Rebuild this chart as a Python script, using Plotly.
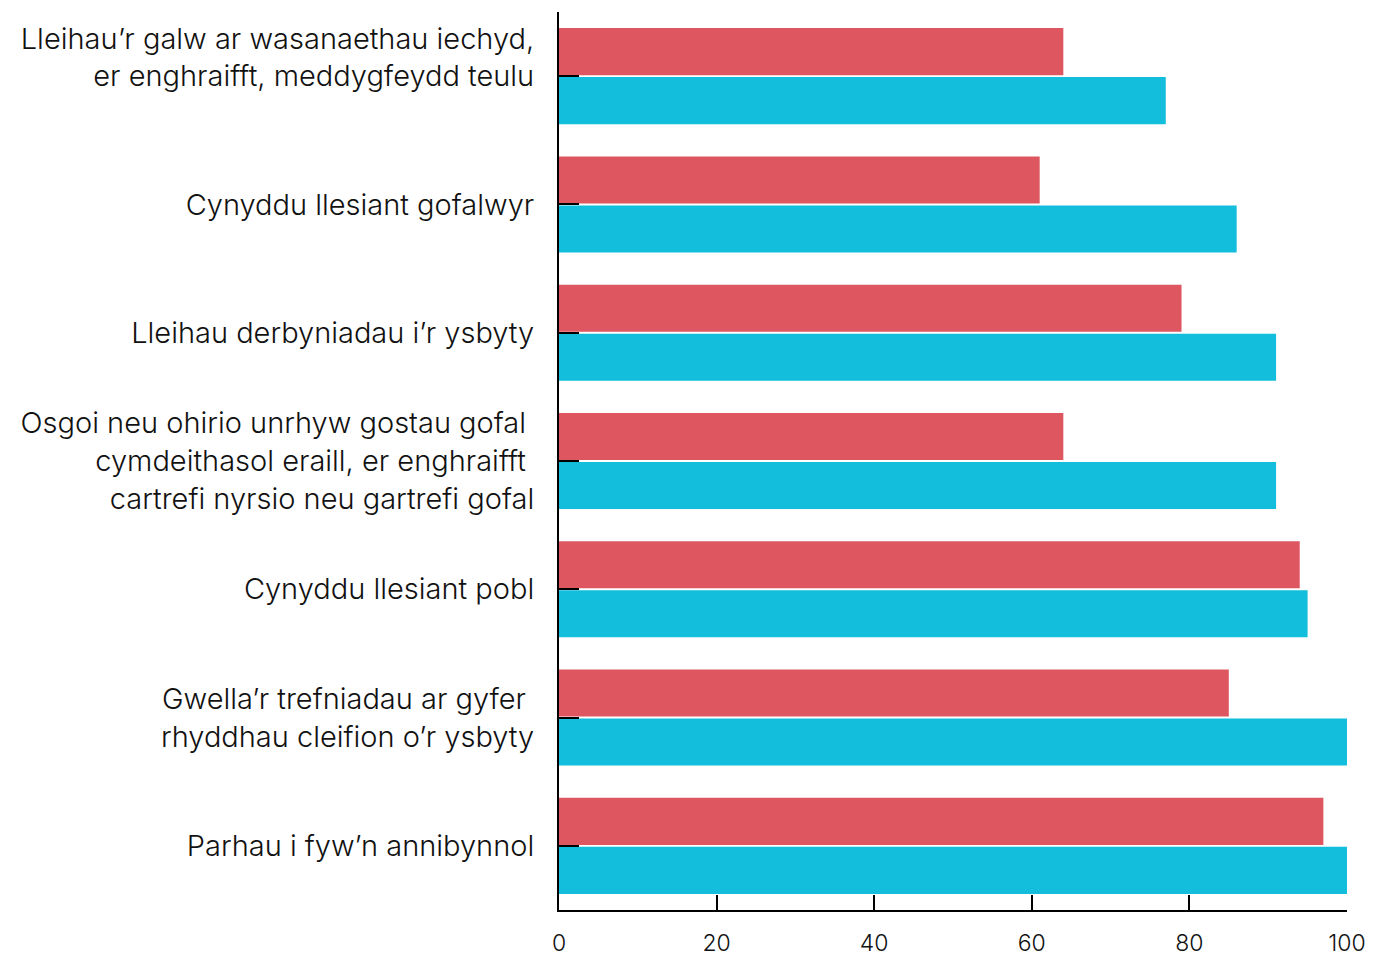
import plotly.graph_objects as go

categories = [
    "Lleihau’r galw ar wasanaethau iechyd,<br>er enghraifft, meddygfeydd teulu<br>\u00a0",
    "Cynyddu llesiant gofalwyr",
    "Lleihau derbyniadau i’r ysbyty",
    "Osgoi neu ohirio unrhyw gostau gofal\u00a0<br>cymdeithasol eraill, er enghraifft\u00a0<br>cartrefi nyrsio neu gartrefi gofal",
    "Cynyddu llesiant pobl",
    "Gwella’r trefniadau ar gyfer\u00a0<br>rhyddhau cleifion o’r ysbyty",
    "Parhau i fyw’n annibynnol",
]
red_values = [64, 61, 79, 64, 94, 85, 97]
cyan_values = [77, 86, 91, 91, 95, 100, 100]
x_ticks = [0, 20, 40, 60, 80, 100]

FONT = "Inter, Open Sans, Liberation Sans, Arial, sans-serif"

fig = go.Figure()
fig.add_trace(go.Bar(y=categories, x=red_values, orientation="h",
                     marker=dict(color="#DD5660", line=dict(width=0)), name="A"))
fig.add_trace(go.Bar(y=categories, x=cyan_values, orientation="h",
                     marker=dict(color="#13BEDC", line=dict(width=0)), name="B"))

fig.update_layout(
    width=1373, height=955,
    margin=dict(l=559, r=26, t=12, b=45, autoexpand=False),
    barmode="group", bargap=0.236, bargroupgap=0.04,
    showlegend=False,
    plot_bgcolor="white", paper_bgcolor="white",
    font=dict(family=FONT, color="#111111", weight=300),
)
fig.update_xaxes(
    range=[0, 100], tickvals=x_ticks, ticks="inside", ticklen=15, tickwidth=1.5,
    tickcolor="black", showline=True, linecolor="black", linewidth=2,
    showgrid=False, zeroline=False, tickfont=dict(size=23, family=FONT, weight=300),
    ticklabelstandoff=11,
)
fig.update_yaxes(
    autorange="reversed", ticks="inside", ticklen=20, tickwidth=2, tickcolor="black",
    showline=True, linecolor="black", linewidth=2, showgrid=False,
    tickfont=dict(size=29, family=FONT, weight=300), ticklabelstandoff=17,
    automargin=False,
)
fig.write_html(
    "out.html",
    config={"displayModeBar": False},
    post_script="document.body.style.margin='0';document.body.style.overflow='hidden';",
)
